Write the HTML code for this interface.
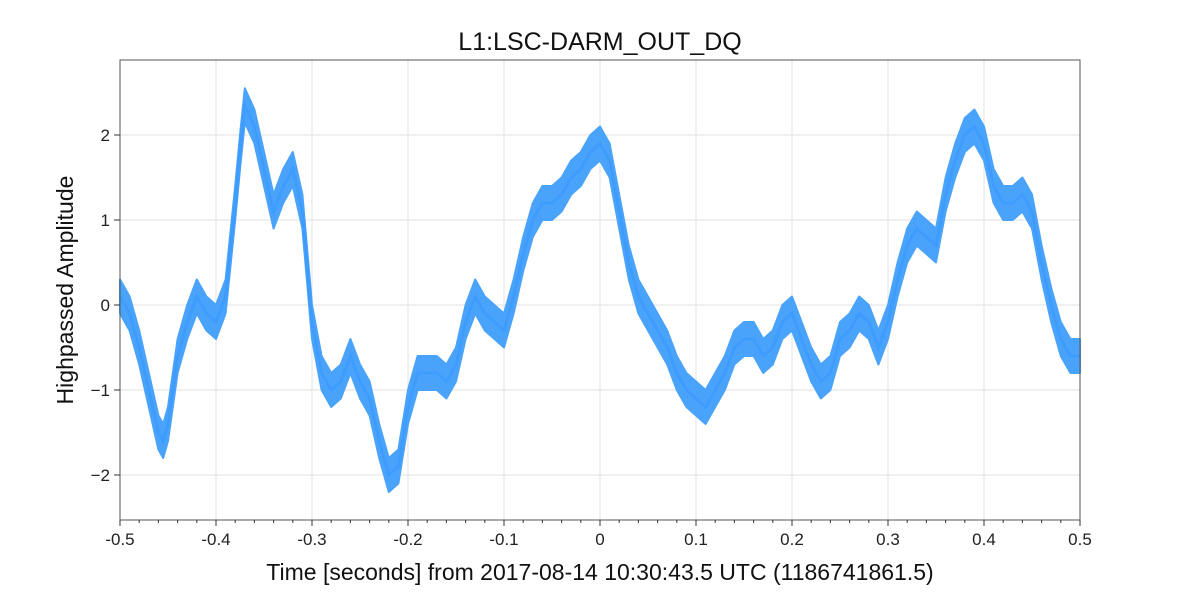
<!DOCTYPE html>
<html><head><meta charset="utf-8"><style>
html,body{margin:0;padding:0;background:#fff;}
svg{display:block;font-family:"Liberation Sans",sans-serif;}
</style></head><body>
<svg id="chart" width="1200" height="600">
<text x="600" y="50" text-anchor="middle" font-size="25" fill="#111">L1:LSC-DARM_OUT_DQ</text>
<g id="grid"></g>
<g id="series"></g>
<rect x="120" y="60" width="960" height="460" fill="none" stroke="#555" stroke-width="1"/>
<g id="axes"></g>
<text x="600" y="580" text-anchor="middle" font-size="23" fill="#111">Time [seconds] from 2017-08-14 10:30:43.5 UTC (1186741861.5)</text>
<text x="0" y="0" transform="translate(73,290) rotate(-90)" text-anchor="middle" font-size="23" fill="#111">Highpassed Amplitude</text>
</svg>
<script>
const times = [-0.50,-0.49,-0.48,-0.47,-0.46,-0.455,-0.45,-0.44,-0.43,-0.42,-0.41,-0.40,-0.39,-0.38,-0.375,-0.37,-0.36,-0.35,-0.34,-0.33,-0.32,-0.31,-0.30,-0.29,-0.28,-0.27,-0.26,-0.25,-0.24,-0.23,-0.22,-0.21,-0.20,-0.19,-0.18,-0.17,-0.16,-0.15,-0.14,-0.13,-0.12,-0.11,-0.10,-0.09,-0.08,-0.07,-0.06,-0.05,-0.04,-0.03,-0.02,-0.01,0.00,0.01,0.02,0.03,0.04,0.05,0.06,0.07,0.08,0.09,0.10,0.11,0.12,0.13,0.14,0.15,0.16,0.17,0.18,0.19,0.20,0.21,0.22,0.23,0.24,0.25,0.26,0.27,0.28,0.29,0.30,0.31,0.32,0.33,0.34,0.35,0.36,0.37,0.38,0.39,0.40,0.41,0.42,0.43,0.44,0.45,0.46,0.47,0.48,0.49,0.50];
const amplitude = [0.1,-0.1,-0.5,-1.0,-1.5,-1.6,-1.4,-0.6,-0.2,0.1,-0.1,-0.2,0.1,1.2,1.8,2.35,2.1,1.6,1.1,1.4,1.6,1.1,-0.2,-0.8,-1.0,-0.9,-0.6,-0.9,-1.1,-1.6,-2.0,-1.9,-1.2,-0.8,-0.8,-0.8,-0.9,-0.7,-0.2,0.1,-0.1,-0.2,-0.3,0.1,0.6,1.0,1.2,1.2,1.3,1.5,1.6,1.8,1.9,1.7,1.1,0.5,0.1,-0.1,-0.3,-0.5,-0.8,-1.0,-1.1,-1.2,-1.0,-0.8,-0.5,-0.4,-0.4,-0.6,-0.5,-0.2,-0.1,-0.4,-0.7,-0.9,-0.8,-0.4,-0.3,-0.1,-0.2,-0.5,-0.2,0.3,0.7,0.9,0.8,0.7,1.3,1.7,2.0,2.1,1.9,1.4,1.2,1.2,1.3,1.1,0.5,0.0,-0.4,-0.6,-0.6];
const noiseHalfWidth = 0.2;
const xTicks = [-0.5,-0.4,-0.3,-0.2,-0.1,0,0.1,0.2,0.3,0.4,0.5];
const xTickLabels = ["-0.5","-0.4","-0.3","-0.2","-0.1","0","0.1","0.2","0.3","0.4","0.5"];
const yTicks = [-2,-1,0,1,2];
const yTickLabels = ["\u22122","\u22121","0","1","2"];

const NS="http://www.w3.org/2000/svg";
const X0=120,X1=1080,YT=60,YB=520;
const xs=t=>X0+(t+0.5)*960;
const ys=v=>305-v*85;
function mk(tag,attrs,parent){const e=document.createElementNS(NS,tag);for(const k in attrs)e.setAttribute(k,attrs[k]);parent.appendChild(e);return e;}
const grid=document.getElementById('grid'),axes=document.getElementById('axes'),series=document.getElementById('series');
xTicks.forEach((t,i)=>{
  const g=mk('line',{x1:xs(t),x2:xs(t),y1:YT,y2:YB,stroke:'#e2e2e2','stroke-width':1},grid);
  
  
  const tk=mk('line',{x1:xs(t),x2:xs(t),y1:YB,y2:YB+6,stroke:'#333'},axes);
  
  
  const tx=mk('text',{x:xs(t),y:YB+25,'text-anchor':'middle','font-size':17,fill:'#222'},axes);
  tx.textContent=xTickLabels[i];
  
  
});
for(let t=-0.48;t<0.5;t+=0.02){
  const m=mk('line',{x1:xs(t),x2:xs(t),y1:YB,y2:YB+3,stroke:'#333'},axes);
  
  
}
yTicks.forEach((v,i)=>{
  const g=mk('line',{x1:X0,x2:X1,y1:ys(v),y2:ys(v),stroke:'#e2e2e2','stroke-width':1},grid);
  
  
  const tk=mk('line',{x1:X0-6,x2:X0,y1:ys(v),y2:ys(v),stroke:'#333'},axes);
  
  
  const tx=mk('text',{x:X0-10,y:ys(v)+6,'text-anchor':'end','font-size':17,fill:'#222'},axes);
  tx.textContent=yTickLabels[i];
  
  
});
let up=times.map((t,i)=>xs(t)+','+ys(amplitude[i]+noiseHalfWidth));
let lo=times.map((t,i)=>xs(t)+','+ys(amplitude[i]-noiseHalfWidth)).reverse();
const band=mk('polygon',{points:up.concat(lo).join(' '),fill:'#4aa3fb',stroke:'#4aa3fb','stroke-width':2,'stroke-linejoin':'round'},series);


const line=mk('polyline',{points:times.map((t,i)=>xs(t)+','+ys(amplitude[i])).join(' '),fill:'none',stroke:'#3f9cff','stroke-width':3},series);


</script>
</body></html>
